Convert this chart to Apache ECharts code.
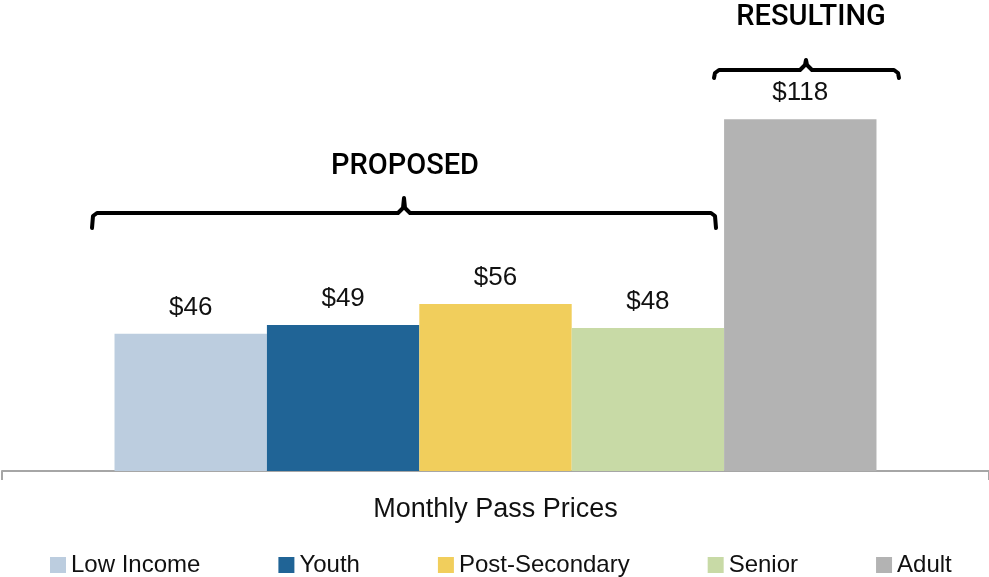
<!DOCTYPE html>
<html>
<head>
<meta charset="utf-8">
<script src="https://cdn.jsdelivr.net/npm/echarts@6/dist/echarts.min.js"></script>
<style>
  html, body { margin: 0; padding: 0; background: #fff; }
  #chart { width: 989px; height: 577px; }
</style>
</head>
<body>
<div id="chart"></div>
<script>
// data
var categories = ['Monthly Pass Prices'];
var seriesNames = ['Low Income', 'Youth', 'Post-Secondary', 'Senior', 'Adult'];
var seriesValues = [46, 49, 56, 48, 118];
var seriesColors = ['#BCCDDF', '#206496', '#F1CE5C', '#C8DAA6', '#B3B3B3'];
var groupLabels = ['PROPOSED', 'RESULTING'];

var myChart = echarts.init(document.getElementById('chart'));

var series = seriesNames.map(function (name, i) {
    return {
        name: name,
        type: 'bar',
        barGap: 0,
        barCategoryGap: '22.8%',
        data: [seriesValues[i]],
        itemStyle: { color: seriesColors[i] },
        label: {
            show: true,
            position: 'top',
            distance: 13,
            formatter: '${c}',
            color: '#111',
            fontSize: 26,
            fontFamily: 'Liberation Sans'
        }
    };
});

var bracketStyle = { stroke: '#000', lineWidth: 4, fill: null, lineCap: 'round', lineJoin: 'round' };

// curly bracket outline: ends down, tip up at the middle
function bracket(x1, x2, xm, yH, yEnd, yTip) {
    return [
        [x1, yEnd], [x1 + 1, yH + 3], [x1 + 5, yH],
        [xm - 6, yH], [xm - 1, yH - 5], [xm, yTip], [xm + 1, yH - 5], [xm + 6, yH],
        [x2 - 5, yH], [x2 - 1, yH + 3], [x2, yEnd]
    ];
}

var option = {
    animation: false,
    grid: { left: 2, right: 0, top: 0, bottom: 106 },
    legend: {
        data: seriesNames,
        left: 45,
        top: 548,
        itemWidth: 16,
        itemHeight: 16,
        itemGap: 78,
        icon: 'rect',
        textStyle: { fontSize: 24, color: '#111', fontFamily: 'Liberation Sans' }
    },
    xAxis: {
        type: 'category',
        data: categories,
        axisLine: { lineStyle: { color: '#A6A6A6', width: 2 } },
        axisTick: { show: true, length: 9, lineStyle: { color: '#A6A6A6', width: 2 } },
        axisLabel: { margin: 25, fontSize: 27, color: '#111', fontFamily: 'Liberation Sans' }
    },
    yAxis: {
        type: 'value',
        show: false,
        min: 0,
        max: 158
    },
    series: series,
    graphic: [
        {
            type: 'polyline',
            shape: { points: bracket(92, 716, 404, 213, 228, 198) },
            style: bracketStyle
        },
        {
            type: 'polyline',
            shape: { points: bracket(714, 899, 806, 70, 78, 60) },
            style: bracketStyle
        },
        {
            type: 'text',
            x: 405, y: 167,
            style: { text: groupLabels[0], fontSize: 29, fontWeight: 500, fontFamily: 'Roboto', fill: '#000', align: 'center', verticalAlign: 'middle' }
        },
        {
            type: 'text',
            x: 811, y: 18,
            style: { text: groupLabels[1], fontSize: 29, fontWeight: 500, fontFamily: 'Roboto', fill: '#000', align: 'center', verticalAlign: 'middle' }
        }
    ]
};
myChart.setOption(option, true);
</script>
</body>
</html>
